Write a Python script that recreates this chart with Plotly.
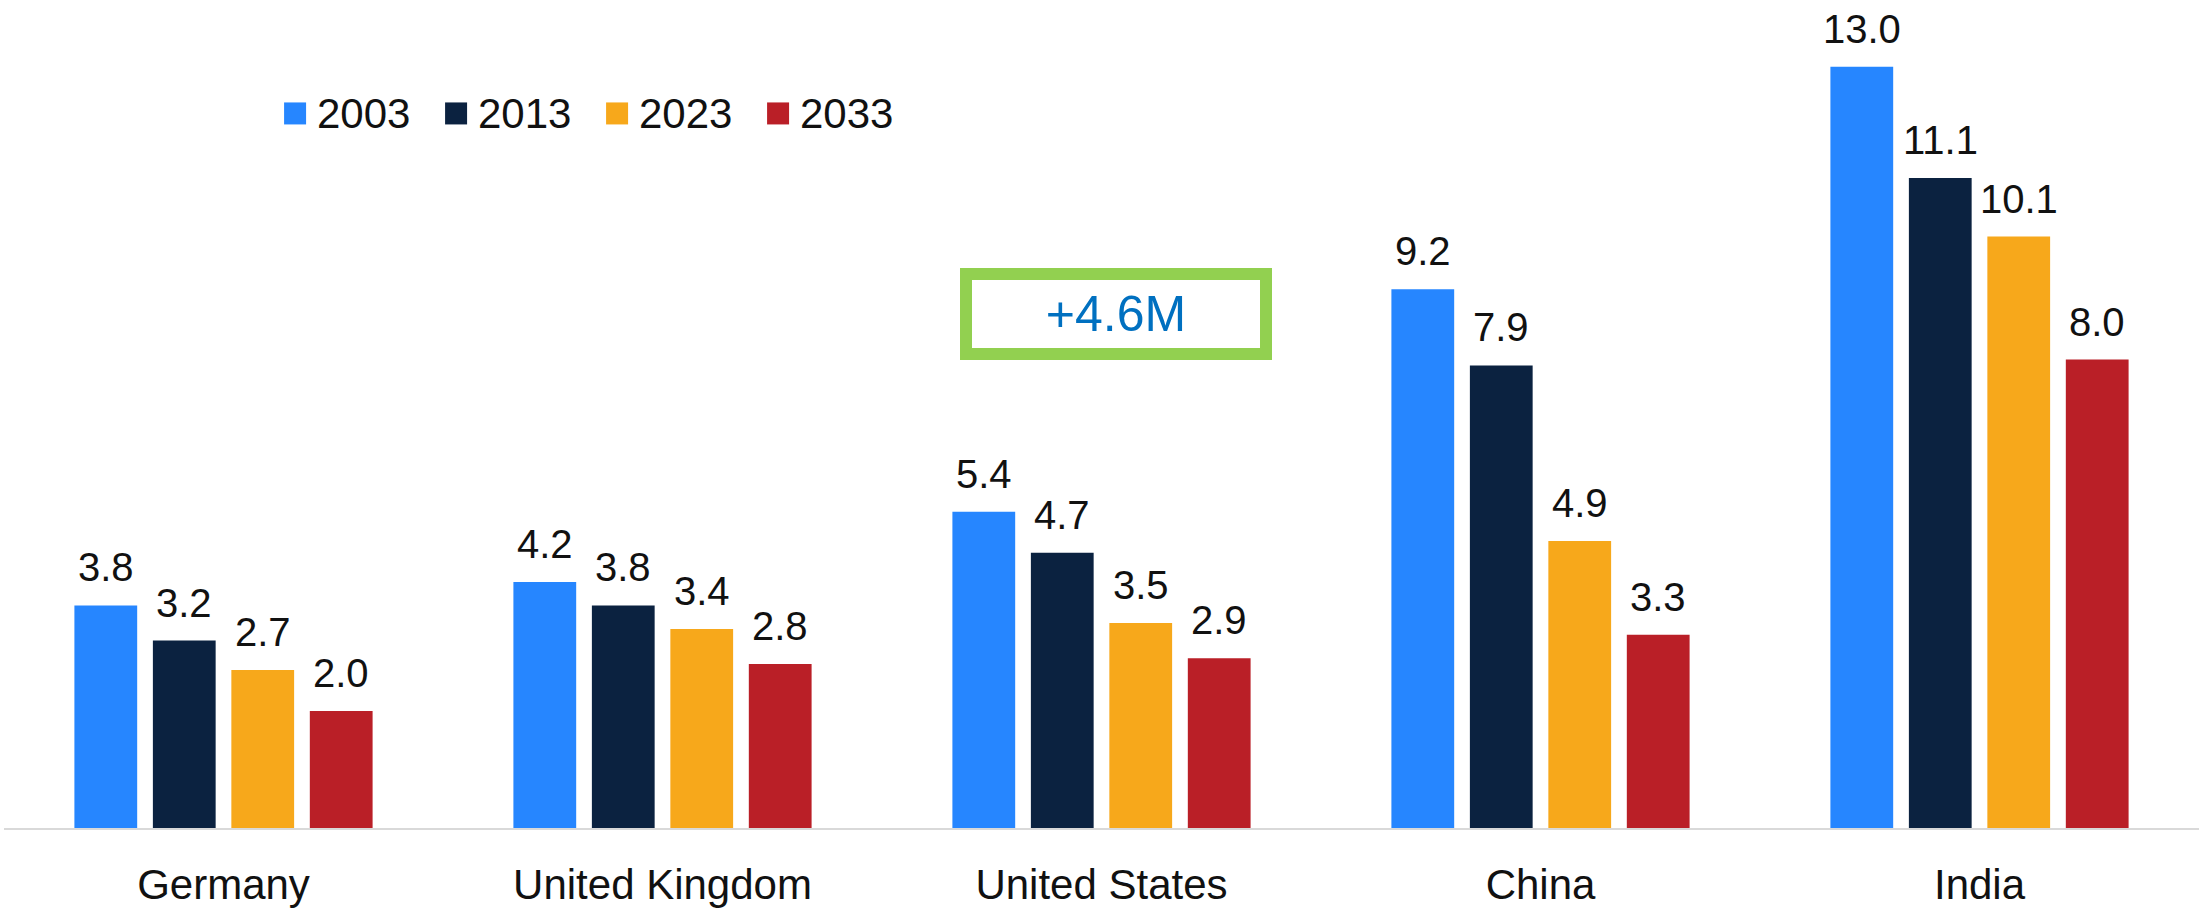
import plotly.graph_objects as go

# Data (millions)
countries = ["Germany", "United Kingdom", "United States", "China", "India"]
years = ["2003", "2013", "2023", "2033"]
v2003 = [3.8, 4.2, 5.4, 9.2, 13.0]
v2013 = [3.2, 3.8, 4.7, 7.9, 11.1]
v2023 = [2.7, 3.4, 3.5, 4.9, 10.1]
v2033 = [2.0, 2.8, 2.9, 3.3, 8.0]
series = [v2003, v2013, v2023, v2033]
colors = ["#2686FF", "#0B2240", "#F7A81B", "#BA1F27"]
callout_text = "+4.6M"
callout_country = "United States"

FONT = "Arial, Liberation Sans, sans-serif"
TEXT = "#111111"
BARGAP = 0.285
GROUPGAP = 0.2

fig = go.Figure()
for name, vals, col in zip(years, series, colors):
    fig.add_trace(go.Bar(
        x=countries, y=vals, name=name, showlegend=False,
        marker=dict(color=col, line=dict(width=0)),
    ))

# value labels above each bar
slot = (1 - BARGAP) / len(series)
annotations = []
for i, vals in enumerate(series):
    off = (i - (len(series) - 1) / 2) * slot
    for k, v in enumerate(vals):
        annotations.append(dict(
            x=k + off, y=v, xref="x", yref="y",
            text=f"{v:.1f}", showarrow=False,
            yanchor="middle", yshift=38,
            font=dict(family=FONT, size=40, color=TEXT),
        ))

# highlighted callout box
annotations.append(dict(
    x=callout_country, y=8.78, xref="x", yref="y", xshift=14,
    text=callout_text, showarrow=False,
    font=dict(family=FONT, size=50, color="#0070C0"),
    bordercolor="#92D050", borderwidth=12, borderpad=0,
    bgcolor="white", width=288, height=68, align="center", valign="middle",
))

# legend: square swatch + year label per series
LEG_X = 0.1276      # paper x of the first swatch
LEG_Y = 0.863       # paper y of the legend row
LEG_STEP = 161      # px between entries
SW = 22             # swatch size, px
shapes = []
for i, (name, col) in enumerate(zip(years, colors)):
    shapes.append(dict(
        type="rect", xref="paper", yref="paper",
        xsizemode="pixel", ysizemode="pixel",
        xanchor=LEG_X, yanchor=LEG_Y,
        x0=i * LEG_STEP, x1=i * LEG_STEP + SW,
        y0=-SW / 2, y1=SW / 2,
        fillcolor=col, line=dict(width=0),
    ))
    annotations.append(dict(
        x=LEG_X, y=LEG_Y, xref="paper", yref="paper",
        xshift=i * LEG_STEP + SW + 9, xanchor="left", yanchor="middle",
        text=name, showarrow=False,
        font=dict(family=FONT, size=42, color=TEXT),
    ))

fig.update_layout(
    width=2199, height=908,
    margin=dict(l=4, r=0, t=0, b=75),
    paper_bgcolor="white", plot_bgcolor="white",
    barmode="group", bargap=BARGAP, bargroupgap=GROUPGAP,
    font=dict(family=FONT, size=42, color=TEXT),
    showlegend=False,
    annotations=annotations,
    shapes=shapes,
)
fig.update_xaxes(
    showline=True, linecolor="#D9D9D9", linewidth=2,
    ticks="outside", ticklen=19, tickcolor="rgba(0,0,0,0)",
    tickfont=dict(family=FONT, size=42, color=TEXT),
    showgrid=False, zeroline=False,
)
fig.update_yaxes(
    range=[0, 14.14], visible=False, showgrid=False, zeroline=False,
)

fig.write_html("out.html")
